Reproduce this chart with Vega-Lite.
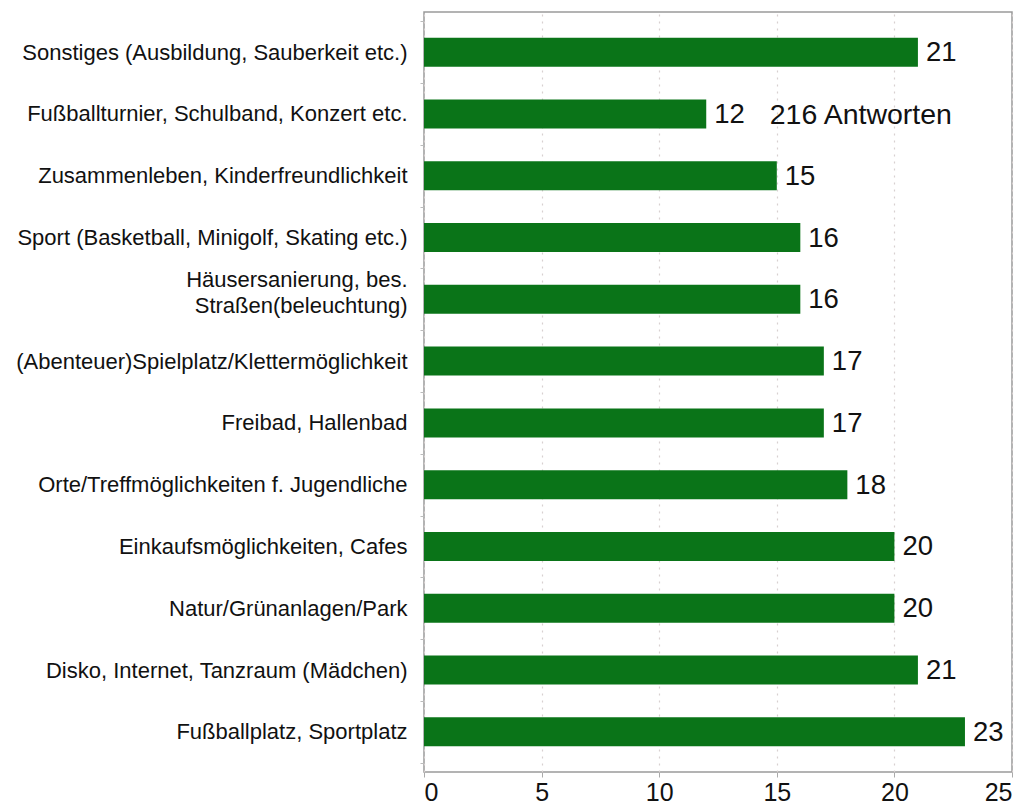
{
  "$schema": "https://vega.github.io/schema/vega-lite/v6.json",
  "width": 588,
  "height": 760,
  "autosize": "none",
  "padding": {"left": 424, "top": 12, "right": 17, "bottom": 34},
  "background": "white",
  "config": {
    "view": {"stroke": "#9a9a9a", "strokeWidth": 1.5},
    "font": "Liberation Sans"
  },
  "data": {
    "values": [
      {"kategorie": "Sonstiges (Ausbildung, Sauberkeit etc.)", "anzahl": 21},
      {"kategorie": "Fußballturnier, Schulband, Konzert etc.", "anzahl": 12},
      {"kategorie": "Zusammenleben, Kinderfreundlichkeit", "anzahl": 15},
      {"kategorie": "Sport (Basketball, Minigolf, Skating etc.)", "anzahl": 16},
      {"kategorie": "Häusersanierung, bes. Straßen(beleuchtung)", "anzahl": 16},
      {"kategorie": "(Abenteuer)Spielplatz/Klettermöglichkeit", "anzahl": 17},
      {"kategorie": "Freibad, Hallenbad", "anzahl": 17},
      {"kategorie": "Orte/Treffmöglichkeiten f. Jugendliche", "anzahl": 18},
      {"kategorie": "Einkaufsmöglichkeiten, Cafes", "anzahl": 20},
      {"kategorie": "Natur/Grünanlagen/Park", "anzahl": 20},
      {"kategorie": "Disko, Internet, Tanzraum (Mädchen)", "anzahl": 21},
      {"kategorie": "Fußballplatz, Sportplatz", "anzahl": 23}
    ]
  },
  "encoding": {
    "y": {
      "field": "kategorie",
      "type": "nominal",
      "sort": null,
      "title": null,
      "scale": {"paddingInner": 0, "paddingOuter": 0.15},
      "axis": {
        "domain": false,
        "tickBand": "extent",
        "ticks": true,
        "tickSize": 4,
        "tickColor": "#bbbbbb",
        "labelPadding": 13,
        "labelFontSize": 22,
        "labelColor": "#111111",
        "labelLimit": 420,
        "labelLineHeight": 26,
        "labelOffset": {"condition": {"test": "datum.value == 'Häusersanierung, bes. Straßen(beleuchtung)'", "value": -20}, "value": 0},
        "labelExpr": "datum.label == 'Häusersanierung, bes. Straßen(beleuchtung)' ? ['Häusersanierung, bes.', 'Straßen(beleuchtung)'] : datum.label"
      }
    }
  },
  "layer": [
    {
      "mark": {"type": "bar", "color": "#0a7418", "height": 29},
      "encoding": {
        "x": {
          "field": "anzahl",
          "type": "quantitative",
          "title": null,
          "scale": {"domain": [0, 25], "nice": false},
          "axis": {
            "values": [0, 5, 10, 15, 20, 25],
            "domain": false,
            "grid": true,
            "gridColor": "#d8d0d0",
            "gridDash": [2, 5],
            "gridWidth": 1.2,
            "tickSize": 5,
            "tickColor": "#aaaaaa",
            "labelFontSize": 25,
            "labelColor": "#111111",
            "labelPadding": 3
          }
        }
      }
    },
    {
      "mark": {"type": "text", "align": "left", "baseline": "middle", "dx": 8, "dy": 1, "fontSize": 27.5, "color": "#111111"},
      "encoding": {
        "x": {"field": "anzahl", "type": "quantitative"},
        "text": {"field": "anzahl", "type": "quantitative"}
      }
    },
    {
      "data": {"values": [{"kategorie": "Fußballturnier, Schulband, Konzert etc.", "pos": 14.7, "label": "216 Antworten"}]},
      "mark": {"type": "text", "align": "left", "baseline": "middle", "fontSize": 28.5, "color": "#111111", "dy": 1},
      "encoding": {
        "x": {"field": "pos", "type": "quantitative"},
        "text": {"field": "label"}
      }
    }
  ]
}
